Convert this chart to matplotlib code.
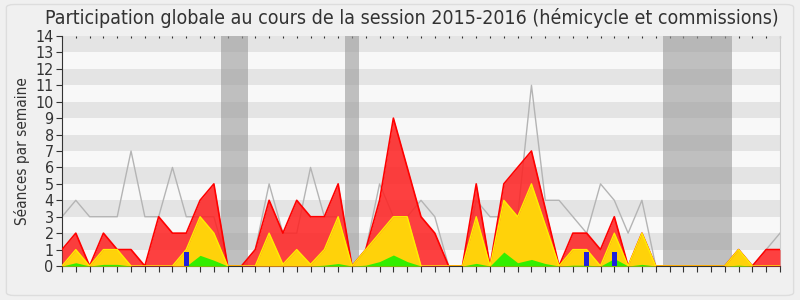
import matplotlib
matplotlib.use('Agg')
import matplotlib.pyplot as plt
from matplotlib.patches import FancyBboxPatch

# semaines de la session (0 = fin septembre 2015)
semaines = list(range(53))

# nombre de séances (ligne grise)
seances = [3, 4, 3, 3, 3, 7, 3, 3, 6, 3, 3, 3, 0, 0, 1, 5, 2, 2, 6, 3,
           3, 0, 1, 5, 3, 3, 4, 3, 0, 0, 4, 3, 3, 3, 11, 4, 4, 3, 2, 5,
           4, 2, 4, 0, 0, 0, 0, 0, 0, 1, 0, 1, 2]
# présences (rouge)
presences = [1, 2, 0, 2, 1, 1, 0, 3, 2, 2, 4, 5, 0, 0, 1, 4, 2, 4, 3, 3,
             5, 0, 1, 4, 9, 6, 3, 2, 0, 0, 5, 0, 5, 6, 7, 3.5, 0, 2, 2, 1,
             3, 0, 2, 0, 0, 0, 0, 0, 0, 1, 0, 1, 1]
# participations (jaune)
participations = [0, 1, 0, 1, 1, 0, 0, 0, 0, 1, 3, 2, 0, 0, 0, 2, 0.1, 1, 0.1, 1,
                  3, 0, 1, 2, 3, 3, 0, 0, 0, 0, 3, 0, 4, 3, 5, 2.5, 0, 1, 1, 0,
                  2, 0, 2, 0, 0, 0, 0, 0, 0, 1, 0, 0, 0]
# interventions (vert)
interventions = [0, 0.2, 0, 0.1, 0.1, 0, 0, 0, 0, 0, 0.65, 0.35, 0, 0, 0, 0, 0, 0, 0, 0.05,
                 0.15, 0, 0.05, 0.27, 0.67, 0.27, 0, 0, 0, 0, 0.16, 0, 0.85, 0.2, 0.4, 0.15, 0, 0.05, 0.05, 0,
                 0.45, 0, 0.1, 0, 0, 0, 0, 0, 0, 0.05, 0, 0, 0]
# questions orales (barres bleues)
semaines_questions = [9, 38, 40]
questions = [0.85, 0.85, 0.85]

# vacances parlementaires
vacances = [(11.5, 13.5), (20.5, 21.5), (43.5, 48.5)]

mois = ['Oct', 'Nov', 'Déc', 'Jan 16', 'Fév', 'Mar', 'Avr', 'Mai', 'Juin', 'Juil', 'Août', 'Sept']
mois_pos = [1, 6, 11, 15, 18, 22, 27, 31, 36, 40, 45, 50]

plt.rcParams['font.family'] = ['DejaVu Sans']
plt.rcParams['font.stretch'] = 'condensed'

fig = plt.figure(figsize=(8, 3), dpi=100)
fig.patch.set_facecolor('#f0f0f0')
cadre = FancyBboxPatch((0.008, 0.015), 0.984, 0.97, boxstyle='round,pad=0,rounding_size=0.01',
                       transform=fig.transFigure, facecolor='#f0f0f0', edgecolor='#dddddd',
                       lw=1, zorder=-10)
fig.patches.append(cadre)

ax = fig.add_axes([0.0775, 0.1133, 0.8975, 0.7667])
ax.set_zorder(1)
ax.set_facecolor('#f8f8f8')

# bandes horizontales
for k in range(1, 14, 2):
    ax.axhspan(k, k + 1, color='#e4e4e4', lw=0, zorder=0)

for debut, fin in vacances:
    ax.axvspan(debut, fin, color='#999999', alpha=0.6, lw=0, zorder=1)

ax.plot(semaines, seances, color='#b4b4b4', lw=1, zorder=2)

ax.fill_between(semaines, presences, color='#ff2020', alpha=0.85, lw=0, zorder=3)
ax.plot(semaines, presences, color='#ff0000', lw=1.2, zorder=3)
ax.fill_between(semaines, participations, color='#ffd20a', lw=0, zorder=4)
ax.plot(semaines, participations, color='#ffee00', lw=1, zorder=4)
ax.fill_between(semaines, interventions, color='#33ee00', lw=0, zorder=5)
ax.bar(semaines_questions, questions, width=0.4, color='#2020dd', zorder=6)

ax.set_xlim(0, 52)
ax.set_ylim(0, 14)
ax.set_yticks(range(15))
ax.set_xticks(semaines)
ax.set_xticklabels([])
ax.set_xticks(mois_pos, minor=True)
ax.set_xticklabels(mois, minor=True)
ax.tick_params(axis='x', which='major', length=4, color='#333333')
ax.tick_params(axis='x', which='minor', length=0, pad=3, labelsize=11.5, labelcolor='#333333')
ax.tick_params(axis='y', length=4, labelsize=11.5, pad=2, color='#333333', labelcolor='#333333')

# petits points en haut
ax2 = ax.secondary_xaxis('top')
ax2.set_xticks(semaines)
ax2.set_xticklabels([])
ax2.tick_params(length=1.5, direction='in', color='#333333')
ax2.spines['top'].set_visible(False)

ax.spines['top'].set_visible(False)
ax.spines['right'].set_color('#cccccc')
ax.spines['left'].set_color('#333333')
ax.spines['bottom'].set_color('#333333')

ax.set_ylabel('Séances par semaine', fontsize=11, color='#333333', labelpad=4)
fig.text(0.515, 0.94, 'Participation globale au cours de la session 2015-2016 (hémicycle et commissions)',
         ha='center', va='center', fontsize=14, color='#333333')

fig.savefig('out.png', dpi=100, facecolor=fig.get_facecolor())
